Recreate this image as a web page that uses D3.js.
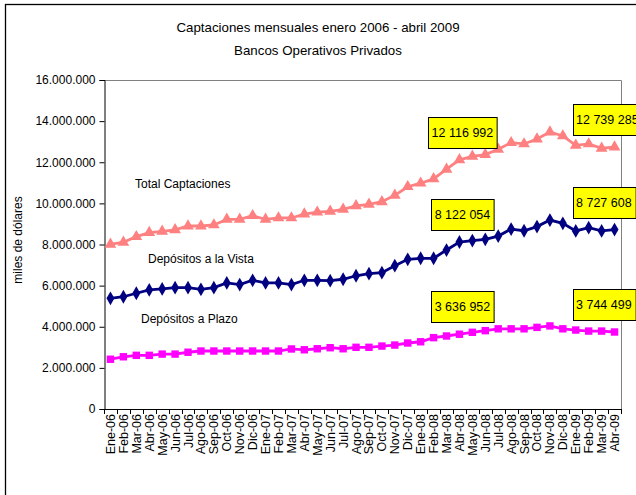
<!DOCTYPE html>
<html>
<head>
<meta charset="utf-8">
<script src="https://cdn.jsdelivr.net/npm/d3@7"></script>
<style>
  body { margin: 0; background: #fff; }
  svg { display: block; font-family: Arial, "Liberation Sans", sans-serif; }
</style>
</head>
<body>
<div id="chart"></div>
<script>
// monthly deposits, miles de dólares
const months = ["Ene","Feb","Mar","Abr","May","Jun","Jul","Ago","Sep","Oct","Nov","Dic"]
const categories = []
for (let yr of ["06","07","08"]) months.forEach(m => categories.push(m + "-" + yr))
months.slice(0, 4).forEach(m => categories.push(m + "-09"))

const totalCaptaciones = [8010000, 8110000, 8380000, 8580000, 8640000, 8710000, 8900000, 8900000, 8950000, 9220000,
  9220000, 9400000, 9220000, 9290000, 9290000, 9480000, 9570000, 9610000, 9710000, 9880000,
  9950000, 10080000, 10390000, 10810000, 10980000, 11190000, 11660000, 12116992, 12290000, 12370000,
  12630000, 12950000, 12890000, 13130000, 13470000, 13280000, 12820000, 12890000, 12680000, 12739285]
const depositosVista = [5380000, 5460000, 5630000, 5790000, 5840000, 5900000, 5900000, 5820000, 5900000, 6130000,
  6050000, 6260000, 6130000, 6130000, 6050000, 6260000, 6260000, 6240000, 6310000, 6480000,
  6580000, 6630000, 6970000, 7280000, 7330000, 7330000, 7730000, 8122054, 8190000, 8250000,
  8410000, 8750000, 8670000, 8870000, 9190000, 9030000, 8660000, 8820000, 8660000, 8727608]
const depositosPlazo = [2420000, 2540000, 2610000, 2610000, 2670000, 2670000, 2760000, 2820000, 2820000, 2820000,
  2820000, 2820000, 2820000, 2820000, 2920000, 2880000, 2930000, 2980000, 2930000, 3000000,
  3000000, 3060000, 3110000, 3210000, 3270000, 3470000, 3550000, 3636952, 3730000, 3810000,
  3900000, 3900000, 3900000, 3970000, 4040000, 3900000, 3840000, 3790000, 3790000, 3744499]
const labelledIdx = [27, 39]
const yTicks = [0, 2000000, 4000000, 6000000, 8000000, 10000000, 12000000, 14000000, 16000000]

const W = 636, H = 495
const plot = {left: 104, right: 621, top: 80, bottom: 409}

const svg = d3.select("#chart").append("svg").attr("width", W).attr("height", H)

// outer chart frame (runs off the right / bottom edge)
svg.append("rect").attr("x", 5.5).attr("y", 4.5).attr("width", 700).attr("height", 600)
  .attr("fill", "#fff").attr("stroke", "#000").attr("stroke-width", 1.3)

svg.append("text").attr("x", 318).attr("y", 32).attr("text-anchor", "middle")
  .attr("font-size", 13.3).text("Captaciones mensuales enero 2006 - abril 2009")
svg.append("text").attr("x", 318).attr("y", 55).attr("text-anchor", "middle")
  .attr("font-size", 13.3).text("Bancos Operativos Privados")

const x = d3.scaleBand().domain(categories).range([plot.left, plot.right]).padding(0)
const y = d3.scaleLinear().domain([0, 16000000]).range([plot.bottom, plot.top])
const cx = c => x(c) + x.bandwidth() / 2

// plot area border (gray)
svg.append("path")
  .attr("d", `M${plot.left},${plot.top + 0.5}H${plot.right + 0.5}V${plot.bottom}`)
  .attr("fill", "none").attr("stroke", "#808080").attr("stroke-width", 1)

const es = d3.formatLocale({decimal: ",", thousands: ".", grouping: [3], currency: ["", ""]})
const yAxis = d3.axisLeft(y).tickValues(yTicks).tickFormat(es.format(",")).tickSize(5).tickPadding(4)
const gy = svg.append("g").attr("transform", `translate(${plot.left + 0.5},0)`).call(yAxis)
gy.select(".domain").attr("stroke", "#000")
gy.selectAll("text").attr("font-size", 12).attr("font-family", "Arial, 'Liberation Sans', sans-serif").attr("fill", "#000")

// x axis: ticks between categories
const gx = svg.append("g")
gx.append("line").attr("x1", plot.left).attr("x2", plot.right + 0.5)
  .attr("y1", plot.bottom + 0.5).attr("y2", plot.bottom + 0.5).attr("stroke", "#000")
gx.selectAll(".tk").data(categories.concat(["__end"])).enter().append("line")
  .attr("x1", (d, i) => Math.round(plot.left + i * x.step()) + 0.5)
  .attr("x2", (d, i) => Math.round(plot.left + i * x.step()) + 0.5)
  .attr("y1", plot.bottom).attr("y2", plot.bottom + 5).attr("stroke", "#000")
gx.selectAll(".lbl").data(categories).enter().append("text")
  .attr("transform", d => `translate(${cx(d) + 4.5},${plot.bottom + 5}) rotate(-90)`)
  .attr("text-anchor", "end").attr("font-size", 12.5).text(d => d)

svg.append("text").attr("transform", "translate(22,240) rotate(-90)")
  .attr("text-anchor", "middle").attr("font-size", 12).text("miles de dólares")

const series = [
  {name: "total", values: totalCaptaciones, color: "#FF8080", symbol: d3.symbolTriangle, size: 60},
  {name: "vista", values: depositosVista, color: "#000080", symbol: d3.symbolDiamond, size: 55},
  {name: "plazo", values: depositosPlazo, color: "#FF00FF", symbol: d3.symbolSquare, size: 55}
]

const line = d3.line().x((d, i) => cx(categories[i])).y(d => y(d))
series.forEach(s => {
  svg.append("path").datum(s.values).attr("d", line)
    .attr("fill", "none").attr("stroke", s.color).attr("stroke-width", 2.8)
  svg.selectAll(".m-" + s.name).data(s.values).enter().append("path")
    .attr("transform", (d, i) => `translate(${cx(categories[i])},${y(d)})`)
    .attr("d", d3.symbol().type(s.symbol).size(s.size)).attr("fill", s.color)
})

// series names written in the plot
const notes = [["Total Captaciones", 135, 188], ["Depósitos a la Vista", 148, 263], ["Depósitos a Plazo", 141, 323]]
notes.forEach(n => svg.append("text").attr("x", n[1]).attr("y", n[2]).attr("font-size", 12).text(n[0]))

// yellow data labels
const fmtSp = v => d3.format(",")(v).replace(/,/g, " ")
series.forEach(s => {
  labelledIdx.forEach(i => {
    const px = cx(categories[i]), py = y(s.values[i])
    const txt = fmtSp(s.values[i])
    const g = svg.append("g")
    const t = g.append("text").attr("font-size", 12.5).text(txt)
    const w = t.node().getComputedTextLength() + 7, h = 31
    const left = i === categories.length - 1 ? px - 42 : px + 3 - w / 2
    const top = py - 12 - h
    g.insert("rect", "text").attr("x", Math.round(left) + 0.5).attr("y", Math.round(top) + 0.5)
      .attr("width", w).attr("height", h).attr("fill", "#FFFF00").attr("stroke", "#000").attr("stroke-width", 1)
    t.attr("x", left + 3.5).attr("y", top + h / 2 + 4.5)
  })
})
</script>
</body>
</html>
